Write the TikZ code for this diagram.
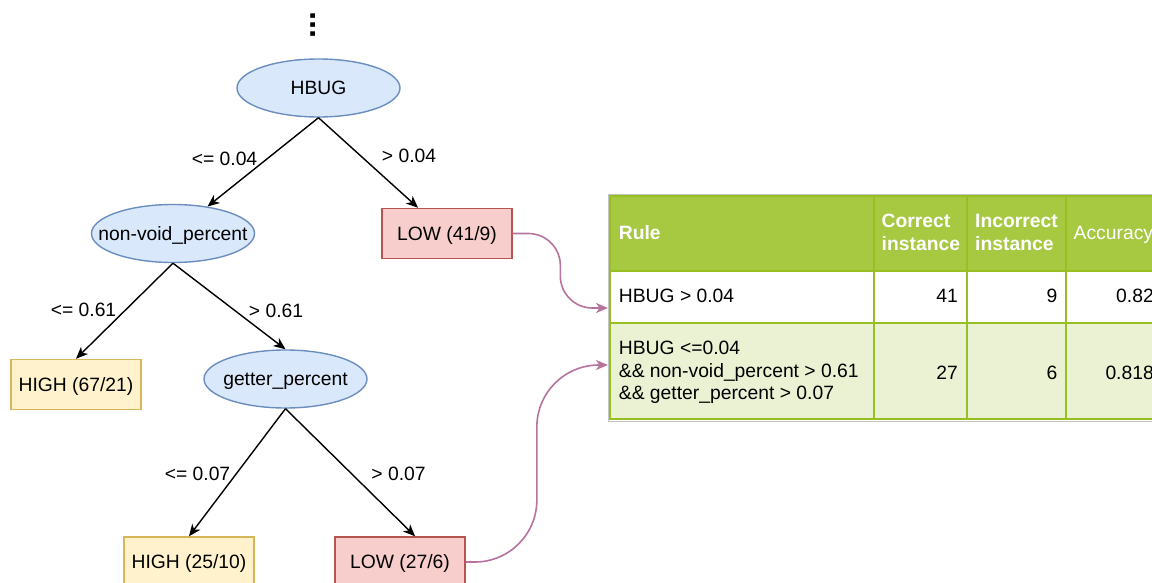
\documentclass[tikz,border=0pt]{standalone}
\usepackage{fontspec}
\setmainfont{Liberation Sans}
\usetikzlibrary{arrows.meta,shapes.geometric,calc}

% palette
\definecolor{splitfill}{HTML}{DAE8FC}
\definecolor{splitdraw}{HTML}{6C8EBF}
\definecolor{lowfill}{HTML}{F8CECC}
\definecolor{lowdraw}{HTML}{B85450}
\definecolor{highfill}{HTML}{FFF2CC}
\definecolor{highdraw}{HTML}{D6B656}
\definecolor{hdrfill}{HTML}{A7C942}
\definecolor{gridcol}{HTML}{98BF21}
\definecolor{altfill}{HTML}{EAF2D3}
\definecolor{framecol}{HTML}{C4C4C4}
\definecolor{linkcol}{HTML}{B5739D}

% zero-width text so the ellipse keeps its fixed size
\newcommand{\zwtext}[1]{\makebox[0pt]{#1}}

\begin{document}
\begin{tikzpicture}[x=1pt,y=-1pt,
  every node/.style={inner sep=0pt, font=\fontsize{19.3}{22}\selectfont},
  oneline/.style={text height=13.9pt, text depth=0pt},
  split/.style={ellipse, oneline, draw=splitdraw, fill=splitfill, line width=1.4pt,
    minimum width=163pt, minimum height=58pt},
  leafbox/.style={rectangle, oneline, line width=1.4pt, minimum width=130pt, minimum height=50pt},
  lowleaf/.style={leafbox, draw=lowdraw, fill=lowfill},
  highleaf/.style={leafbox, draw=highdraw, fill=highfill},
  cond/.style={oneline},
  tip/.style={-{Stealth[length=12pt,width=10pt,inset=3.5pt]}},
  branch/.style={draw=black, line width=1.4pt, tip},
  link/.style={draw=linkcol, line width=1.6pt, tip},
  hdrtext/.style={text=white, font=\fontsize{19.3}{23}\selectfont\bfseries, align=left},
  celltext/.style={oneline, text=black},
]
\useasboundingbox (0,0) rectangle (1152,583);

% ---------- decision tree ----------
\node[font=\fontsize{32}{32}\selectfont\bfseries, rotate=90] (more) at (313,25) {...};

\node[split] (hbug) at (318.5,88) {\zwtext{HBUG}};
\node[split] (nv) at (173,233.5) {\zwtext{non-void\_percent}};
\node[lowleaf] (low1) at (447,233.5) {LOW (41/9)};
\node[highleaf] (high1) at (76,384.5) {HIGH (67/21)};
\node[split] (getter) at (285.5,379) {\zwtext{getter\_percent}};
\node[highleaf] (high2) at (189,562) {HIGH (25/10)};
\node[lowleaf] (low2) at (400,562) {LOW (27/6)};

\draw[branch] (hbug.south) -- (nv.38);
\draw[branch] (hbug.south) -- ($(low1.north west)!0.28!(low1.north east)$);
\draw[branch] (nv.south) -- (high1.north);
\draw[branch] (nv.south) -- (getter.north);
\draw[branch] (getter.south) -- (high2.north);
\draw[branch] (getter.south) -- ($(low2.north west)!0.615!(low2.north east)$);

\node[cond] (c1) at (224.5,159) {<= 0.04};
\node[cond] (c2) at (409,156) {> 0.04};
\node[cond] (c3) at (83.5,310) {<= 0.61};
\node[cond] (c4) at (276,310.5) {> 0.61};
\node[cond] (c5) at (197.5,474) {<= 0.07};
\node[cond] (c6) at (398.5,474) {> 0.07};

% ---------- rule table ----------
\fill[hdrfill] (610,196.5) rectangle (1162,270.5);
\fill[white] (610,270.5) rectangle (1162,322.5);
\fill[altfill] (610,322.5) rectangle (1162,418.5);
\draw[framecol, line width=1.2pt] (608.2,194.4) rectangle (1175,421.4);
\draw[gridcol, line width=2pt] (610,196.5) rectangle (1162,418.5);
\draw[gridcol, line width=2pt] (610,270.5) -- (1162,270.5)
                               (610,322.5) -- (1162,322.5)
                               (873.5,196.5) -- (873.5,418.5)
                               (966.5,196.5) -- (966.5,418.5)
                               (1065.5,196.5) -- (1065.5,418.5);

\node[hdrtext, anchor=base west] (hrule) at (618.7,239) {Rule};
\node[hdrtext, anchor=west] (hcorrect) at (881.5,232.3) {Correct\\instance};
\node[hdrtext, anchor=west] (hincorrect) at (975,232.3) {Incorrect\\instance};
\node[text=white, anchor=base west] (hacc) at (1073.5,239) {Accuracy};

\node[celltext, anchor=west] (rule1) at (618.7,296) {HBUG > 0.04};
\node[celltext, anchor=east] (ok1) at (958,296) {41};
\node[celltext, anchor=east] (bad1) at (1057.5,296) {9};
\node[celltext, anchor=east] (acc1) at (1154,296) {0.82};

\node[font=\fontsize{19.3}{22.5}\selectfont, align=left, anchor=west] (rule2) at (618.7,372.4)
  {HBUG <=0.04\\\&\& non-void\_percent > 0.61\\\&\& getter\_percent > 0.07};
\node[celltext, anchor=east] (ok2) at (958,372.5) {27};
\node[celltext, anchor=east] (bad2) at (1057.5,372.5) {6};
\node[celltext, anchor=east] (acc2) at (1154,372.5) {0.818};

% ---------- leaves linked to their rules ----------
\coordinate (in1) at (608,308);
\coordinate (in2) at (608,365);
\coordinate (m1) at ($(low1.east)!0.5!(in1)$);
\coordinate (m2) at ($(low2.east)!0.5!(in2)$);
\draw[link, rounded corners=32pt] (low1.east) -| (m1 |- in1) -- (in1);
\draw[link, rounded corners=62pt] (low2.east) -| (m2 |- in2) -- (in2);
\end{tikzpicture}
\end{document}
